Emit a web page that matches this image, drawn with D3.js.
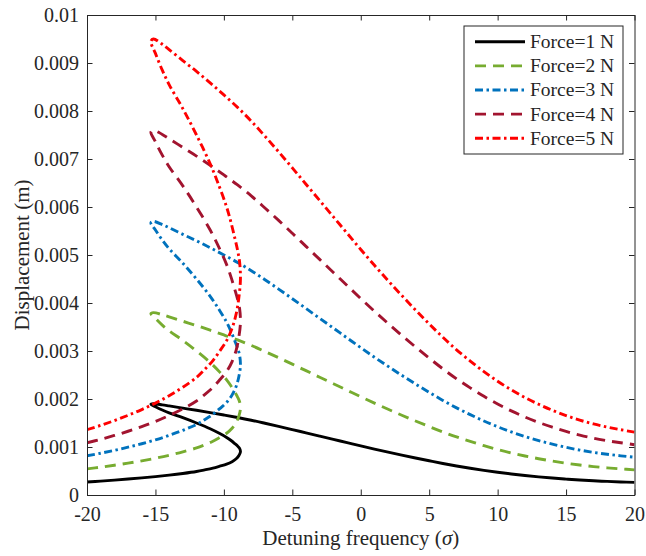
<!DOCTYPE html>
<html>
<head>
<meta charset="utf-8">
<script src="https://cdn.jsdelivr.net/npm/d3@7"></script>
<style>
  html, body { margin: 0; padding: 0; background: #fff; }
  svg { display: block; }
  text { font-family: "Liberation Serif", "Times New Roman", serif; fill: #262626; }
</style>
</head>
<body>
<svg id="chart" width="646" height="556"></svg>
<script>
// Detuning frequency along each traced response curve
// (stable lower branch -> right turning point -> middle branch -> peak -> upper branch)
const sigma = [-20, -19, -18, -17, -16, -15, -14, -13, -12, -11.4, -10.8, -10.3, -9.8, -9.4, -9.1, -8.9,
  -8.79,
  -8.85, -9.0, -9.2, -9.5, -9.8, -10.3, -11, -12, -13, -14, -14.5, -15,
  -15.33,
  -15.15, -14.5, -14, -13, -12, -11, -10,
  -9, -8, -7, -6, -5, -4, -3, -2, -1, 0, 1, 2, 3, 4, 5, 6, 7, 8, 9, 10,
  11, 12, 13, 14, 15, 16, 17, 18, 19, 20];

const force1 = [0.000272, 0.00029, 0.00031, 0.000332, 0.000356, 0.000383, 0.000414, 0.000449, 0.00049, 0.000523, 0.00056, 0.0006, 0.000643, 0.000695, 0.000755, 0.000825,
  0.0009,
  0.00097, 0.00102, 0.00107, 0.00114, 0.0012, 0.00128, 0.00138, 0.0015, 0.00161, 0.00171, 0.00177, 0.00184,
  0.00189,
  0.0019, 0.001878, 0.001856, 0.00181, 0.001765, 0.001717, 0.001667,
  0.001615, 0.001558, 0.001495, 0.00143, 0.001363, 0.001295, 0.001227, 0.001159, 0.001091, 0.001023, 0.000957, 0.000893, 0.000831, 0.000771,
  0.000713, 0.000657, 0.000605, 0.000558, 0.000514, 0.000474, 0.000438, 0.000406, 0.000378, 0.000353, 0.000331, 0.000312, 0.000296, 0.000283,
  0.000272, 0.000262];

const force2 = [0.000544, 0.00058, 0.00062, 0.000664, 0.000712, 0.000766, 0.000828, 0.000898, 0.00098, 0.001046, 0.00112, 0.0012, 0.001286, 0.00139, 0.00151, 0.00165,
  0.0018,
  0.00194, 0.00204, 0.00214, 0.00228, 0.0024, 0.00256, 0.00276, 0.003, 0.00322, 0.00342, 0.00354, 0.00368,
  0.00378,
  0.0038, 0.003756, 0.003712, 0.00362, 0.00353, 0.003434, 0.003334,
  0.00323, 0.003116, 0.00299, 0.00286, 0.002726, 0.00259, 0.002454, 0.002318, 0.002182, 0.002046, 0.001914, 0.001786, 0.001662, 0.001542,
  0.001426, 0.001314, 0.00121, 0.001116, 0.001028, 0.000948, 0.000876, 0.000812, 0.000756, 0.000706, 0.000662, 0.000624, 0.000592, 0.000566,
  0.000544, 0.000524];

const force3 = [0.000816, 0.00087, 0.00093, 0.000996, 0.001068, 0.001149, 0.001242, 0.001347, 0.00147, 0.001569, 0.00168, 0.0018, 0.001929, 0.002085, 0.002265, 0.002475,
  0.0027,
  0.00291, 0.00306, 0.00321, 0.00342, 0.0036, 0.00384, 0.00414, 0.0045, 0.00483, 0.00513, 0.00531, 0.00552,
  0.00567,
  0.0057, 0.005634, 0.005568, 0.00543, 0.005295, 0.005151, 0.005001,
  0.004845, 0.004674, 0.004485, 0.00429, 0.004089, 0.003885, 0.003681, 0.003477, 0.003273, 0.003069, 0.002871, 0.002679, 0.002493, 0.002313,
  0.002139, 0.001971, 0.001815, 0.001674, 0.001542, 0.001422, 0.001314, 0.001218, 0.001134, 0.001059, 0.000993, 0.000936, 0.000888, 0.000849,
  0.000816, 0.000786];

const force4 = [0.001088, 0.00116, 0.00124, 0.001328, 0.001424, 0.001532, 0.001656, 0.001796, 0.00196, 0.002092, 0.00224, 0.0024, 0.002572, 0.00278, 0.00302, 0.0033,
  0.0036,
  0.00388, 0.00408, 0.00428, 0.00456, 0.0048, 0.00512, 0.00552, 0.006, 0.00644, 0.00684, 0.00708, 0.00736,
  0.00756,
  0.0076, 0.007512, 0.007424, 0.00724, 0.00706, 0.006868, 0.006668,
  0.00646, 0.006232, 0.00598, 0.00572, 0.005452, 0.00518, 0.004908, 0.004636, 0.004364, 0.004092, 0.003828, 0.003572, 0.003324, 0.003084,
  0.002852, 0.002628, 0.00242, 0.002232, 0.002056, 0.001896, 0.001752, 0.001624, 0.001512, 0.001412, 0.001324, 0.001248, 0.001184, 0.001132,
  0.001088, 0.001048];

const force5 = [0.00136, 0.00145, 0.00155, 0.00166, 0.00178, 0.001915, 0.00207, 0.002245, 0.00245, 0.002615, 0.0028, 0.003, 0.003215, 0.003475, 0.003775, 0.004125,
  0.0045,
  0.00485, 0.0051, 0.00535, 0.0057, 0.006, 0.0064, 0.0069, 0.0075, 0.00805, 0.00855, 0.00885, 0.0092,
  0.00945,
  0.0095, 0.00939, 0.00928, 0.00905, 0.008825, 0.008585, 0.008335,
  0.008075, 0.00779, 0.007475, 0.00715, 0.006815, 0.006475, 0.006135, 0.005795, 0.005455, 0.005115, 0.004785, 0.004465, 0.004155, 0.003855,
  0.003565, 0.003285, 0.003025, 0.00279, 0.00257, 0.00237, 0.00219, 0.00203, 0.00189, 0.001765, 0.001655, 0.00156, 0.00148, 0.001415,
  0.00136, 0.00131];

const seriesNames = ["Force=1 N", "Force=2 N", "Force=3 N", "Force=4 N", "Force=5 N"];
const xTicks = [-20, -15, -10, -5, 0, 5, 10, 15, 20];
const xTickLabels = ["-20", "-15", "-10", "-5", "0", "5", "10", "15", "20"];
const yTicks = [0, 0.001, 0.002, 0.003, 0.004, 0.005, 0.006, 0.007, 0.008, 0.009, 0.01];
const yTickLabels = ["0", "0.001", "0.002", "0.003", "0.004", "0.005", "0.006", "0.007", "0.008", "0.009", "0.01"];

const styles = [
  { color: "#000000", dash: null },
  { color: "#77AC30", dash: "11,7" },
  { color: "#0072BD", dash: "8,3.5,2.5,3.5" },
  { color: "#A2142F", dash: "11,7" },
  { color: "#FF0000", dash: "8,3.5,2.5,3.5" }
];

const FONT = '"Liberation Serif", "Times New Roman", serif';
const svg = d3.select("#chart");
const L = 87, R = 634.5, T = 15, B = 495;
const x = d3.scaleLinear().domain([-20, 20]).range([L, R]);
const y = d3.scaleLinear().domain([0, 0.01]).range([B, T]);

const allSeries = [force1, force2, force3, force4, force5];

svg.append("defs").append("clipPath").attr("id", "clip")
  .append("rect").attr("x", L).attr("y", T).attr("width", R - L).attr("height", B - T);

const line = d3.line()
  .x(d => x(d[0])).y(d => y(d[1]))
  .curve(d3.curveCatmullRom.alpha(0.5));

const gLines = svg.append("g").attr("clip-path", "url(#clip)");
allSeries.forEach((vals, i) => {
  const pts = sigma.map((s, k) => [s, vals[k]]);
  gLines.append("path")
    .attr("d", line(pts))
    .attr("fill", "none")
    .attr("stroke", styles[i].color)
    .attr("stroke-width", 2.9)
    .attr("stroke-linejoin", "round")
    .attr("stroke-dasharray", styles[i].dash);
});

// axes
const axisColor = "#262626";
const tickLen = 5.5;
const gx = svg.append("g").attr("transform", `translate(0,${B})`)
  .call(d3.axisBottom(x).tickValues(xTicks).tickSizeInner(-tickLen).tickSizeOuter(0).tickPadding(12)
    .tickFormat((d, i) => xTickLabels[i]));
const gxTop = svg.append("g").attr("transform", `translate(0,${T})`)
  .call(d3.axisTop(x).tickValues(xTicks).tickSizeInner(-tickLen).tickSizeOuter(0).tickFormat(""));
const gy = svg.append("g").attr("transform", `translate(${L},0)`)
  .call(d3.axisLeft(y).tickValues(yTicks).tickSizeInner(-tickLen).tickSizeOuter(0).tickPadding(8)
    .tickFormat((d, i) => yTickLabels[i]));
const gyR = svg.append("g").attr("transform", `translate(${R},0)`)
  .call(d3.axisRight(y).tickValues(yTicks).tickSizeInner(-tickLen).tickSizeOuter(0).tickFormat(""));

[gx, gxTop, gy, gyR].forEach(g => {
  g.attr("font-family", null).attr("font-size", null);
  g.selectAll(".domain").attr("stroke", axisColor).attr("stroke-width", 1);
  g.selectAll(".tick line").attr("stroke", axisColor).attr("stroke-width", 1);
  g.selectAll(".tick text").style("font-family", FONT).style("font-size", "20px").attr("fill", axisColor);
});

// axis labels
const xl = svg.append("text")
  .attr("x", (L + R) / 2).attr("y", 544.5)
  .attr("text-anchor", "middle").style("font-family", FONT).style("font-size", "21px");
xl.append("tspan").text("Detuning frequency (");
xl.append("tspan").attr("font-style", "italic").text("σ");
xl.append("tspan").text(")");

svg.append("text")
  .attr("transform", `translate(29,${(T + B) / 2}) rotate(-90)`)
  .attr("text-anchor", "middle").style("font-family", FONT).style("font-size", "21px")
  .text("Displacement (m)");

// legend
const lg = svg.append("g");
const lx = 464, ly = 26, lw = 159, lh = 128;
lg.append("rect").attr("x", lx).attr("y", ly).attr("width", lw).attr("height", lh)
  .attr("fill", "#fff").attr("stroke", axisColor).attr("stroke-width", 1);
seriesNames.forEach((name, i) => {
  const cy = 41.7 + i * 24.15;
  lg.append("line").attr("x1", 475).attr("x2", 525).attr("y1", cy).attr("y2", cy)
    .attr("stroke", styles[i].color).attr("stroke-width", 2.9)
    .attr("stroke-dasharray", styles[i].dash);
  lg.append("text").attr("x", 530).attr("y", cy).attr("dy", "0.33em")
    .style("font-family", FONT).style("font-size", "19.5px").text(name);
});
</script>
</body>
</html>
